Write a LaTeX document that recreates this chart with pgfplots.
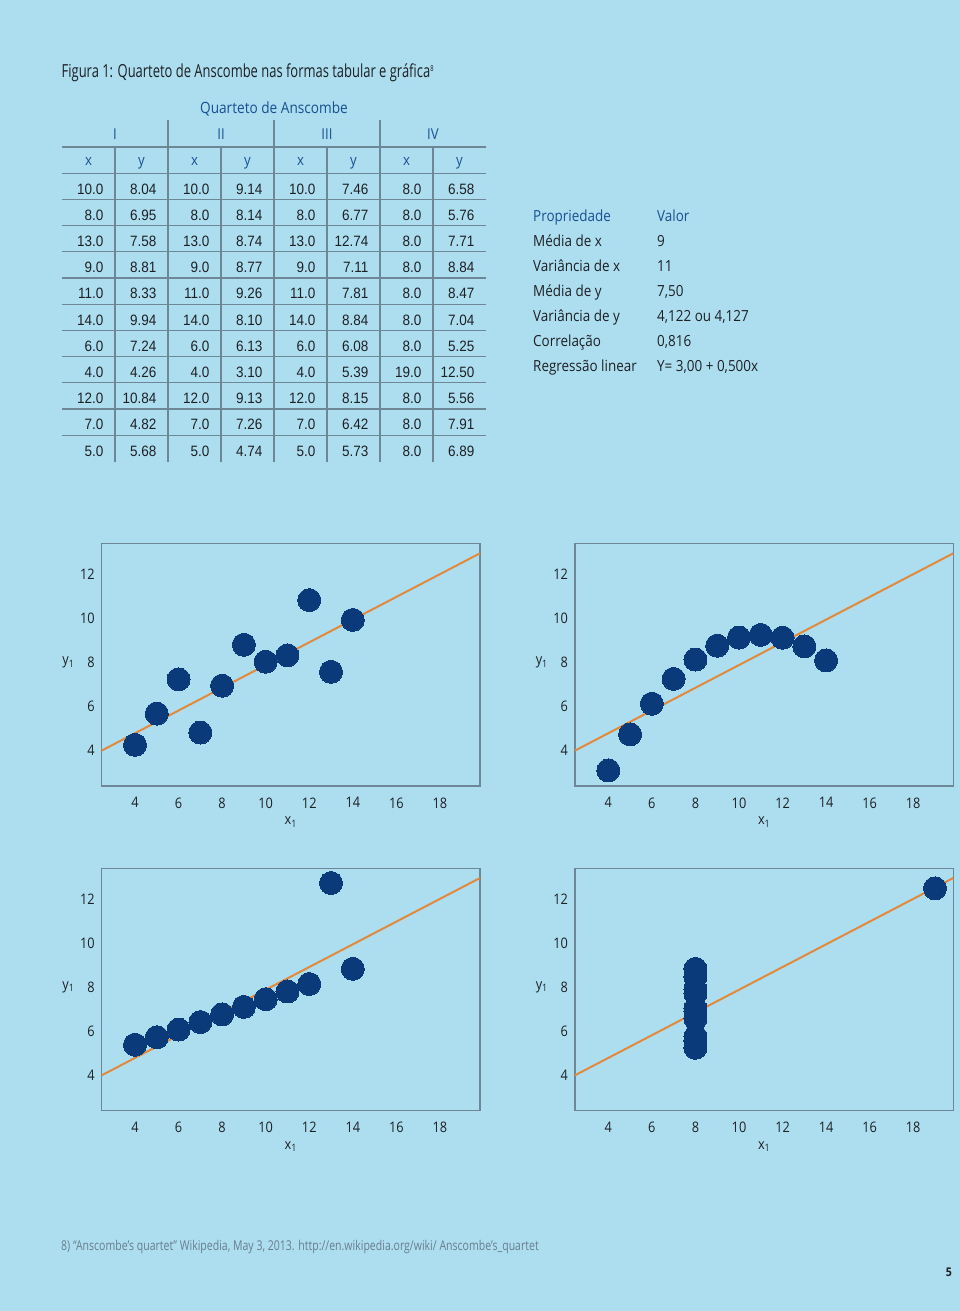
\documentclass[border=0pt]{standalone}
\usepackage{fontspec}
\usepackage{pgfplots}
\usepackage{pgfplotstable}
\pgfplotsset{compat=1.18}
\setmainfont[FakeStretch=0.9]{Liberation Sans}
\newfontfamily\hum[FakeStretch=0.88]{Open Sans}
\newfontfamily\cond[FakeStretch=0.72]{Open Sans}
\newfontfamily\condf[FakeStretch=0.78]{Open Sans}
\definecolor{bg}{RGB}{172,222,240}
\definecolor{navy}{RGB}{10,58,122}
\definecolor{orangeline}{RGB}{226,137,60}
\definecolor{hblue}{RGB}{25,80,145}
\definecolor{gridc}{RGB}{110,135,150}
\definecolor{txt}{RGB}{30,32,36}
\definecolor{foot}{RGB}{105,125,140}

\pgfplotstableread{
x1 y1 x2 y2 x3 y3 x4 y4
10.0 8.04 10.0 9.14 10.0 7.46 8.0 6.58
8.0 6.95 8.0 8.14 8.0 6.77 8.0 5.76
13.0 7.58 13.0 8.74 13.0 12.74 8.0 7.71
9.0 8.81 9.0 8.77 9.0 7.11 8.0 8.84
11.0 8.33 11.0 9.26 11.0 7.81 8.0 8.47
14.0 9.94 14.0 8.10 14.0 8.84 8.0 7.04
6.0 7.24 6.0 6.13 6.0 6.08 8.0 5.25
4.0 4.26 4.0 3.10 4.0 5.39 19.0 12.50
12.0 10.84 12.0 9.13 12.0 8.15 8.0 5.56
7.0 4.82 7.0 7.26 7.0 6.42 8.0 7.91
5.0 5.68 5.0 4.74 5.0 5.73 8.0 6.89
}\anscombe

\pgfplotsset{anscombe/.style={
  scale only axis, width=378.3pt, height=242.4pt,
  xmin=2.47, xmax=19.84, ymin=2.39, ymax=13.41,
  xtick={4,6,...,18}, ytick={4,6,...,12},
  major tick length=0pt,
  axis line style={draw=gridc, line width=1.3pt},
  tick label style={font=\hum\fontsize{14.5}{16}\selectfont, text=txt},
  /pgf/number format/assume math mode=true,
  xticklabel style={yshift=-8pt},
  yticklabel style={xshift=-3.5pt},
  xlabel={x\textsubscript{1}}, ylabel={y\textsubscript{1}},
  every axis x label/.style={at={(rel axis cs:0.5,0)}, anchor=center, yshift=-36pt,
     font=\hum\fontsize{14.5}{16}\selectfont, text=txt},
  every axis y label/.style={at={(rel axis cs:0,0.509)}, anchor=east, xshift=-27pt, inner sep=0pt,
     font=\hum\fontsize{14.5}{16}\selectfont, text=txt},
  clip=false,
}}

\begin{document}
\begin{tikzpicture}
\begin{scope}[x=1pt,y=-1pt]
\fill[bg] (0,0) rectangle (960,1311);
\path[use as bounding box] (0,0) rectangle (960,1311);
% title
\node[anchor=base west, inner sep=0pt, text=txt, font=\cond\fontsize{18}{20}\selectfont] at (61.5,77.3)
  {Figura 1: Quarteto de Anscombe nas formas tabular e gráfica\textsuperscript{\fontsize{8}{8}\selectfont 8}};
\node[anchor=base, inner sep=0pt, text=hblue, font=\hum\fontsize{15.5}{18}\selectfont] at (274,113.3)
  {Quarteto de Anscombe};
% grid
\foreach \k in {0,...,11} \draw[gridc, line width=1.1pt] (62,147+26.2*\k) -- (486,147+26.2*\k);
\foreach \c in {1,...,7} \draw[gridc, line width=1.1pt] (62+53*\c,147) -- (62+53*\c,461.5);
\foreach \c in {2,4,6} \draw[gridc, line width=1.1pt] (62+53*\c,120) -- (62+53*\c,147);
% headers
\foreach \h [count=\i from 0] in {I,II,III,IV}
  \node[anchor=base, inner sep=0pt, text=hblue, font=\hum\fontsize{15}{18}\selectfont] at (115+106*\i,139.3) {\h};
\foreach \i in {0,...,3} {
  \node[anchor=base, inner sep=0pt, text=hblue, font=\hum\fontsize{15}{18}\selectfont] at (88.5+106*\i,165) {x};
  \node[anchor=base, inner sep=0pt, text=hblue, font=\hum\fontsize{15}{18}\selectfont] at (141.5+106*\i,165) {y};
}
% values
\foreach \r in {0,...,10} {
  \foreach \c [count=\ci from 1] in {x1,y1,x2,y2,x3,y3,x4,y4} {
    \pgfplotstablegetelem{\r}{\c}\of\anscombe
    \node[anchor=base east, inner sep=0pt, text=txt, font=\fontsize{15}{18}\selectfont]
      at (62+53*\ci-11.5,194+26.2*\r) {\pgfplotsretval};
  }
}
% properties
\begin{scope}[every node/.style={anchor=base west, inner sep=0pt, text=txt, font=\hum\fontsize{15.3}{18}\selectfont}]
\node[text=hblue] at (533,221) {Propriedade};
\node[text=hblue] at (657,221) {Valor};
\node at (533,246) {Média de x};        \node at (657,246) {9};
\node at (533,271) {Variância de x};    \node at (657,271) {11};
\node at (533,296) {Média de y};        \node at (657,296) {7,50};
\node at (533,321) {Variância de y};    \node at (657,321) {4,122 ou 4,127};
\node at (533,346) {Correlação};        \node at (657,346) {0,816};
\node at (533,371) {Regressão linear};  \node at (657,371) {Y= 3,00 + 0,500x};
\end{scope}
% footnote and page
\node[anchor=base west, inner sep=0pt, text=foot, font=\condf\fontsize{13.5}{15}\selectfont] at (61,1250.7)
  {8) “Anscombe’s quartet” Wikipedia, May 3, 2013. http://en.wikipedia.org/wiki/ Anscombe’s\_quartet};
\node[anchor=base east, inner sep=0pt, text=txt, font=\hum\bfseries\fontsize{12}{14}\selectfont] at (952,1276.7) {5};
\end{scope}

\begin{axis}[anscombe, at={(101.7pt,-786pt)}, anchor=south west]
\addplot[orangeline, line width=2pt] coordinates {(2.47,4.0) (19.84,12.97)};
\addplot[only marks, color=navy, mark=*, mark size=11.5pt, mark options={fill=navy, draw=navy, line width=0pt}] table[x=x1,y=y1]{\anscombe};
\end{axis}
\begin{axis}[anscombe, at={(575pt,-786pt)}, anchor=south west]
\addplot[orangeline, line width=2pt] coordinates {(2.47,4.0) (19.84,12.97)};
\addplot[only marks, color=navy, mark=*, mark size=11.5pt, mark options={fill=navy, draw=navy, line width=0pt}] table[x=x2,y=y2]{\anscombe};
\end{axis}
\begin{axis}[anscombe, at={(101.7pt,-1110.7pt)}, anchor=south west]
\addplot[orangeline, line width=2pt] coordinates {(2.47,4.0) (19.84,12.97)};
\addplot[only marks, color=navy, mark=*, mark size=11.5pt, mark options={fill=navy, draw=navy, line width=0pt}] table[x=x3,y=y3]{\anscombe};
\end{axis}
\begin{axis}[anscombe, at={(575pt,-1110.7pt)}, anchor=south west]
\addplot[orangeline, line width=2pt] coordinates {(2.47,4.0) (19.84,12.97)};
\addplot[only marks, color=navy, mark=*, mark size=11.5pt, mark options={fill=navy, draw=navy, line width=0pt}] table[x=x4,y=y4]{\anscombe};
\end{axis}
\end{tikzpicture}
\end{document}
